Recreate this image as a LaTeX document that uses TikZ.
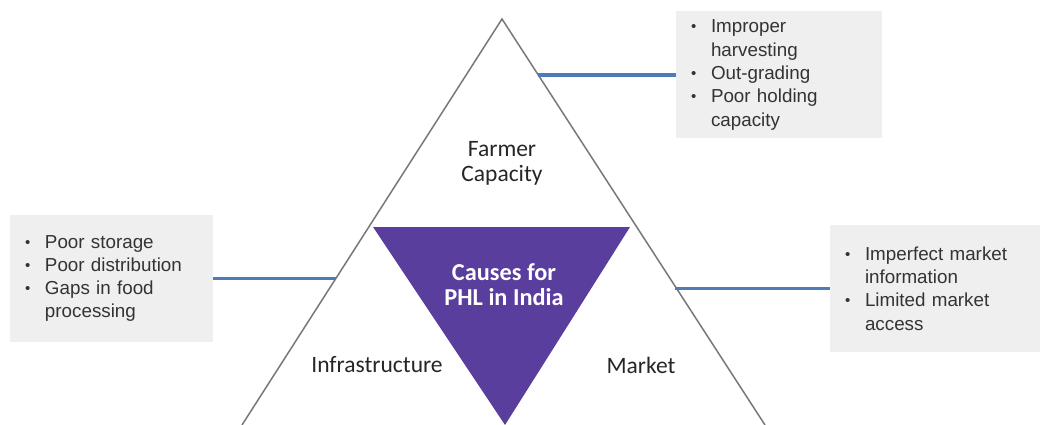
\documentclass[tikz,border=0pt]{standalone}
\usepackage{fontspec}
\setmainfont{Liberation Sans}
\newfontfamily\calib{Carlito}
\definecolor{boxgray}{HTML}{EFEFEF}
\definecolor{bultext}{HTML}{333333}
\definecolor{labtext}{HTML}{262626}
\definecolor{connblue}{HTML}{4E7DB5}
\definecolor{trigray}{HTML}{77777D}
\definecolor{purp}{HTML}{5A3E9E}
\newcommand{\Bul}[1]{\makebox[20pt][l]{\raisebox{1pt}{\fontsize{15}{15}\selectfont •}}#1}
\newcommand{\Cnt}[1]{\hspace*{20pt}#1}
\begin{document}
\begin{tikzpicture}[x=1pt,y=-1pt,
  trisides/.style={draw=trigray, line width=1.5pt, line join=miter},
  infobox/.style={fill=boxgray, inner xsep=15pt, inner ysep=0pt, align=left,
    font=\fontsize{18.8}{23.3}\selectfont, text=bultext, minimum height=127pt},
  conn/.style={draw=connblue, line width=3.2pt},
  seglabel/.style={align=center, text=labtext, font=\calib\fontsize{23.5}{25}\selectfont},
  corelabel/.style={align=center, text=white, font=\calib\bfseries\fontsize{24.3}{25}\selectfont}]
\useasboundingbox (0,0) rectangle (1042,425);
% outer triangle
\coordinate (apex) at (502,19);
\coordinate (bl) at (242,425);
\coordinate (br) at (765,425);
\draw[trisides] (bl) -- (apex) -- (br);
% inner purple triangle
\coordinate (p1) at (373,227);
\coordinate (p2) at (630,227);
\coordinate (p3) at (505,425);
\fill[purp] (p1) -- (p2) -- (p3) -- cycle;
% labels
\node[seglabel] (farmer) at (502,163) {Farmer\\Capacity};
\node[seglabel] (infra) at (377,365) {Infrastructure};
\node[seglabel] (market) at (641,365) {Market};
\node[corelabel] (core) at (504,285) {Causes for\\PHL in India};
% boxes
\node[infobox, minimum width=206pt, text width=176pt] (bfarm) at (779,75)
  {\Bul{Improper}\\\Cnt{harvesting}\\\Bul{Out-grading}\\\Bul{Poor holding}\\\Cnt{capacity}};
\node[infobox, minimum width=203pt, text width=173pt] (binfra) at (111.5,278.5)
  {\Bul{Poor storage}\\\Bul{Poor distribution}\\\Bul{Gaps in food}\\\Cnt{processing}};
\node[infobox, minimum width=210pt, text width=180pt] (bmark) at (935,288.5)
  {\Bul{Imperfect market}\\\Cnt{information}\\\Bul{Limited market}\\\Cnt{access}};
% connectors
\coordinate (cfarm) at (538,75);
\coordinate (cinfra) at (336,278.5);
\coordinate (cmark) at (675,288.5);
\draw[conn] (cfarm) -- (bfarm.west);
\draw[conn] (cinfra) -- (binfra.east);
\draw[conn] (cmark) -- (bmark.west);
\end{tikzpicture}
\end{document}
